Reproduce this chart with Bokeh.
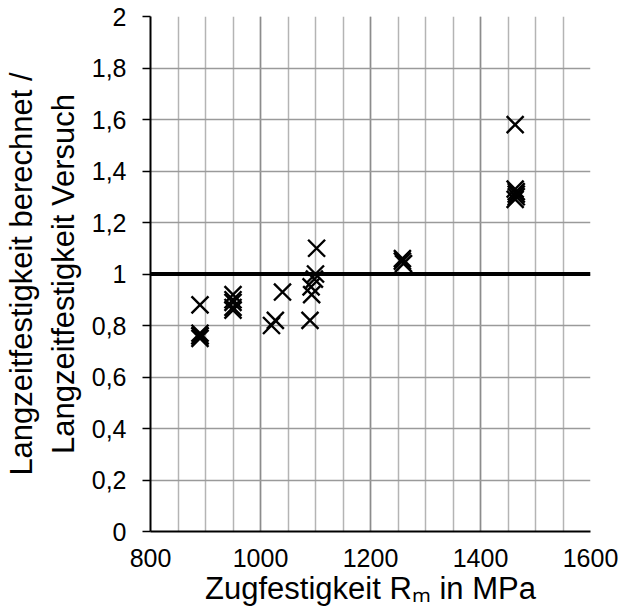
from bokeh.plotting import figure
from bokeh.models import FixedTicker, Span
from bokeh.embed import file_html
from bokeh.resources import INLINE

# Data
rm_mpa = [890, 890, 890, 890, 890,
          950, 950, 950, 950, 950,
          1020, 1027, 1040,
          1090, 1092, 1093, 1098, 1100, 1102,
          1258, 1258, 1260,
          1463, 1463, 1465, 1465, 1465, 1463]
ratio = [0.88, 0.77, 0.76, 0.75, 0.76,
         0.92, 0.90, 0.87, 0.86, 0.89,
         0.80, 0.82, 0.93,
         0.82, 0.95, 0.92, 0.98, 1.00, 1.10,
         1.06, 1.05, 1.04,
         1.58, 1.33, 1.32, 1.31, 1.30, 1.29]

x_ticks = [800, 1000, 1200, 1400, 1600]
x_tick_labels = ["800", "1000", "1200", "1400", "1600"]
x_minor = list(range(800, 1601, 50))
y_ticks = [0, 0.2, 0.4, 0.6, 0.8, 1.0, 1.2, 1.4, 1.6, 1.8, 2.0]
y_tick_labels = ["0", "0,2", "0,4", "0,6", "0,8", "1", "1,2", "1,4", "1,6", "1,8", "2"]
reference_level = 1.0

FONT = "Liberation Sans"

p = figure(width=620, height=614, x_range=(800, 1600), y_range=(0, 2),
           output_backend="svg", toolbar_location=None,
           min_border_left=150, min_border_right=30, min_border_top=16, min_border_bottom=83)
p.outline_line_color = None
p.background_fill_color = "white"
p.border_fill_color = "white"

p.xaxis.ticker = FixedTicker(ticks=x_ticks, minor_ticks=x_minor)
p.xaxis.major_label_overrides = {t: l for t, l in zip(x_ticks, x_tick_labels)}
p.yaxis.ticker = FixedTicker(ticks=y_ticks)
p.yaxis.major_label_overrides = {t: l for t, l in zip(y_ticks, y_tick_labels)}

for ax in (p.xaxis[0], p.yaxis[0]):
    ax.axis_line_color = "black"
    ax.axis_line_width = 2
    ax.major_label_text_font = FONT
    ax.major_label_text_font_size = "25px"
    ax.major_label_text_color = "black"
    ax.minor_tick_out = 0
    ax.minor_tick_in = 0
    ax.major_tick_in = 0
    ax.axis_label_text_font = FONT
    ax.axis_label_text_font_style = "normal"
    ax.axis_label_text_color = "black"

p.xaxis.major_tick_out = 0
p.xaxis.major_label_standoff = 17
p.xaxis.axis_label = "Zugfestigkeit R\u2098 in MPa"
p.xaxis.axis_label_text_font_size = "31px"
p.xaxis.axis_label_standoff = 1

p.yaxis.major_tick_out = 8
p.yaxis.major_tick_line_color = "black"
p.yaxis.major_tick_line_width = 1.5
p.yaxis.major_label_standoff = 16
p.yaxis.axis_label = "Langzeitfestigkeit berechnet /\nLangzeitfestigkeit Versuch"
p.yaxis.axis_label_text_font_size = "31px"
p.yaxis.axis_label_standoff = 8

p.xgrid.grid_line_color = "#8c8c8c"
p.xgrid.grid_line_width = 1.5
p.xgrid.minor_grid_line_color = "#b4b4b4"
p.xgrid.minor_grid_line_width = 1.5
p.ygrid.grid_line_color = "#9a9a9a"
p.ygrid.grid_line_width = 1.5

p.add_layout(Span(location=reference_level, dimension="width",
                  line_color="black", line_width=4))

p.scatter(rm_mpa, ratio, marker="x", size=24, line_color="black", line_width=2.4)

open("out.html", "w").write(file_html(p, INLINE))
